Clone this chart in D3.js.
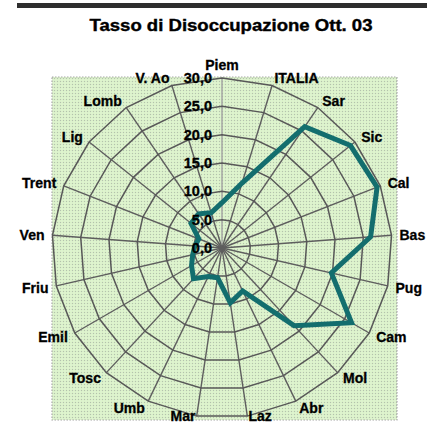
<!DOCTYPE html>
<html><head><meta charset="utf-8">
<script src="https://cdn.jsdelivr.net/npm/d3@7"></script>
<style>html,body{margin:0;padding:0;background:#fff;}svg{display:block;}</style>
</head><body>
<svg id="chart" width="427" height="425"></svg>
<script>
const title = "Tasso di Disoccupazione Ott. 03";
const categories = ["Piem","ITALIA","Sar","Sic","Cal","Bas","Pug","Cam","Mol","Abr","Laz","Mar","Umb","Tosc","Emil","Friu","Ven","Trent","Lig","Lomb","V. Ao"];
const values = [8.0, 12.0, 25.9, 29.0, 29.4, 26.3, 19.8, 26.4, 18.7, 8.4, 9.8, 5.3, 5.6, 7.4, 6.2, 5.3, 4.8, 4.4, 7.0, 7.3, 6.5];
const tickValues = [0, 5, 10, 15, 20, 25, 30];
const tickLabels = ["0,0","5,0","10,0","15,0","20,0","25,0","30,0"];

const svg = d3.select("#chart");
const cx = 222, cy = 248, R = 170;
const font = "'Liberation Sans', Arial, sans-serif";

const r = d3.scaleLinear().domain([0, 30]).range([0, R]);
const ang = d3.scaleLinear().domain([0, categories.length]).range([0, 2 * Math.PI]);
const pt = (i, v) => [cx + r(v) * Math.sin(ang(i)), cy - r(v) * Math.cos(ang(i))];

// top rule
svg.append("rect").attr("x", 17).attr("y", 3).attr("width", 410).attr("height", 5).attr("fill", "#2e2e2e");

// title
svg.append("text").attr("x", 231).attr("y", 31).attr("text-anchor", "middle")
  .attr("font-family", font).attr("font-weight", "bold").attr("font-size", 17)
  .attr("textLength", 283).attr("lengthAdjust", "spacingAndGlyphs")
  .attr("stroke", "#000").attr("stroke-width", 0.4)
  .attr("fill", "#000").text(title);

// dotted green plot-area pattern
const defs = svg.append("defs");
const pat = defs.append("pattern").attr("id", "dots").attr("patternUnits", "userSpaceOnUse")
  .attr("width", 3).attr("height", 3);
pat.append("rect").attr("width", 3).attr("height", 3).attr("fill", "#d9f1c7");
pat.append("rect").attr("x", 0).attr("y", 0).attr("width", 1).attr("height", 1).attr("fill", "#b4bfb0");
pat.append("rect").attr("x", 1.5).attr("y", 1.5).attr("width", 1).attr("height", 1).attr("fill", "#f0f9ea");

svg.append("rect").attr("x", 52).attr("y", 77).attr("width", 345).attr("height", 343)
  .attr("fill", "url(#dots)").attr("stroke", "#a8a8a8").attr("stroke-width", 1.2)
  .attr("stroke-dasharray", "1.5,1.5");

const g = svg.append("g");
const idx = d3.range(categories.length);

// spokes
g.selectAll("line.spoke").data(idx).join("line").attr("class", "spoke")
  .attr("x1", cx).attr("y1", cy)
  .attr("x2", i => pt(i, 30)[0]).attr("y2", i => pt(i, 30)[1])
  .attr("stroke", i => i === 0 ? "#a0a0a0" : "#5e5e5e").attr("stroke-width", 1.4);

// rings
const ringLine = d3.line();
g.selectAll("path.ring").data(tickValues.filter(v => v > 0)).join("path").attr("class", "ring")
  .attr("d", v => ringLine(idx.map(i => pt(i, v))) + "Z")
  .attr("fill", "none").attr("stroke", "#585858").attr("stroke-width", 1.5);

// series
g.append("path")
  .attr("d", d3.line()(values.map((v, i) => pt(i, v))) + "Z")
  .attr("fill", "none").attr("stroke", "#136e6e").attr("stroke-width", 5)
  .attr("stroke-linejoin", "miter");

// tick labels
g.selectAll("text.tick").data(tickValues).join("text").attr("class", "tick")
  .attr("x", cx - 10).attr("y", v => cy - r(v))
  .attr("dy", "0.35em").attr("text-anchor", "end")
  .attr("font-family", font).attr("font-weight", "bold").attr("font-size", 14.5)
  .attr("stroke", "#000").attr("stroke-width", 0.3)
  .attr("fill", "#000").text((v, i) => tickLabels[i]);

// category labels
const LR = 178;
g.selectAll("text.cat").data(idx).join("text").attr("class", "cat")
  .attr("x", i => cx + LR * Math.sin(ang(i)))
  .attr("y", i => {
    let y = cy - LR * Math.cos(ang(i));
    if (Math.cos(ang(i)) > 0.99) y -= 5;
    return Math.min(y, 416);
  })
  .attr("dy", "0.35em")
  .attr("text-anchor", i => {
    const s = Math.sin(ang(i));
    return s > 0.05 ? "start" : (s < -0.05 ? "end" : "middle");
  })
  .attr("font-family", font).attr("font-weight", "bold").attr("font-size", 14)
  .attr("stroke", "#000").attr("stroke-width", 0.3)
  .attr("fill", "#000").text(i => categories[i]);
</script>
</body></html>
